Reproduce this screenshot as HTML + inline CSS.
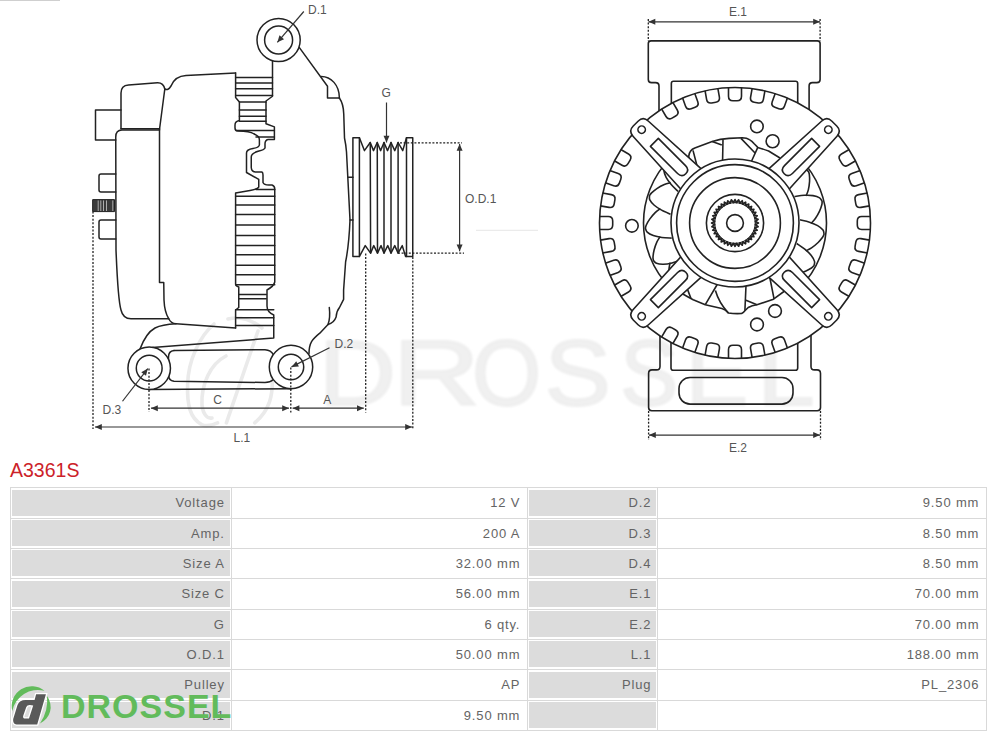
<!DOCTYPE html>
<html><head><meta charset="utf-8"><style>
html,body{margin:0;padding:0;background:#fff;}
body{width:1000px;height:737px;overflow:hidden;position:relative;font-family:"Liberation Sans",sans-serif;}
.g{position:absolute;background:#dcdcdc;}
.hl{position:absolute;left:10px;width:976.6px;height:1.2px;background:#d9d9d9;}
.vl{position:absolute;top:487.2px;height:243.6px;width:1.2px;background:#d9d9d9;}
.t{position:absolute;font-size:13px;line-height:16px;color:#646464;letter-spacing:0.85px;white-space:nowrap;}
.title{position:absolute;left:10px;top:459px;font-size:19.5px;line-height:22px;color:#cc2229;}
.logo{position:absolute;left:0;top:0;}
</style></head><body>
<div style="position:absolute;left:0;top:0;width:60px;height:1px;background:#cfcfcf"></div>
<svg width="1000" height="460" viewBox="0 0 1000 460" style="position:absolute;left:0;top:0"><defs><filter id="wmblur" x="-5%" y="-5%" width="110%" height="110%"><feGaussianBlur stdDeviation="1.2"/></filter></defs><g opacity="1"><g font-family="Liberation Sans, sans-serif" font-size="92" fill="#f0f0f0" stroke="#eeeeee" stroke-width="1.8" filter="url(#wmblur)"><text x="0" y="405" transform="translate(318.6,0) scale(1.17,1)">D</text><text x="0" y="405" transform="translate(392.4,0) scale(1.32,1)">R</text><text x="0" y="405" transform="translate(472.1,0) scale(0.968,1)">O</text><text x="0" y="405" transform="translate(544.7,0) scale(1.077,1)">S</text><text x="0" y="405" transform="translate(620.2,0) scale(0.942,1)">S</text><text x="0" y="405" transform="translate(685.8,0) scale(1.02,1)">E</text><text x="0" y="405" transform="translate(757,0) scale(1.128,1)">L</text></g><g fill="none" stroke="#eaeaea" stroke-width="3.6" stroke-linecap="round"><path d="M214,324 C200,336 188,360 187.6,385 C187,405 190,418 201.7,424.6 C207,427 213,425 217.6,422.9"/><path d="M226,356 C210,364 201,385 202,405 C203,414 207,419 212,418"/><path d="M258,331 L226.4,422.9"/><path d="M272.3,377 C273,395 270,410 254.7,422.9"/><path d="M228,319 C240,316 252,320 262,328"/></g></g><g fill="none" stroke="#222" stroke-width="1.5" stroke-linejoin="round" stroke-linecap="round"><path d="M121,110 H95.5 V140 H115.75" /><path d="M121,128.75 V93 Q121,85.5 128.5,85 L157.5,82.7 Q163.5,82.6 164.8,89 L159.5,129.5" /><path d="M121,128.75 H159.5" /><path d="M159.5,130 H122 Q115.75,130 115.75,137 L116,250 Q118,300 121,310 Q123,318.75 131,318.75 H168.75" /><path d="M115.75,174 H101 Q99,174 99,176 V190 Q99,192 101,192 H115.75" /><path d="M115.75,220 H101 Q99,220 99,222 V237 Q99,239 101,239 H115.75" /><path d="M164.8,89 Q168,91 171,86 Q175,76 186,75.5 L235.6,72.9" /><path d="M159.5,129.5 V282.5 H163.75 L164,300 Q164.5,312 168.75,318.75 Q171,323.5 176,323.8 L235.6,328" /><path d="M235.6,72.9 V97.5 L239.4,101.9 V120.6 Q235,121.5 235,125 V128 Q235,131 238,131 C245,131 250,131 253.75,133.75 C258,136 259.4,137 259.4,140 V145 Q259,147.5 253,148.5 Q246.5,149.5 246.5,153 V172.5 L258.75,179.4 V186.9 Q258,189 250,190.5 L235.6,193.1 V284 Q235.6,286 238.75,287 V307.5 L235.6,310 V328" /><path d="M272.5,60.6 V96.25 L266,101 V123.75 L274.4,126.9 V139.4 H268 Q265,140 265,143.75 V148 Q264,150 259,151 Q251.25,153 251.25,157 V167.5 Q251.5,172 256,172 H261.9 Q263,172.5 263,175 V182.5 Q264,185 268.75,185 H272 Q274.75,186 274.75,189 V282 Q274,286 267,290 V306 Q267,312 273.75,315 V338 L152.5,347.5" /><path d="M235.6,77.5 H272.5" /><path d="M235.6,82.9 H272.5" /><path d="M235.6,88.75 H272.5" /><path d="M235.6,95.6 H272.5" /><path d="M239.4,101.9 H266" /><path d="M239.4,110 H266" /><path d="M239.4,116.25 H266" /><path d="M239.4,121.25 H266" /><path d="M236,130.6 H274.4" /><path d="M256,136.9 H274.4" /><path d="M256,189.4 H274.75" /><path d="M235.6,196.25 H274.75" /><path d="M235.6,205 H274.75" /><path d="M235.6,214.4 H274.75" /><path d="M235.6,225 H274.75" /><path d="M235.6,235.6 H274.75" /><path d="M235.6,245.6 H274.75" /><path d="M235.6,254.75 H274.75" /><path d="M235.6,265.25 H274.75" /><path d="M235.6,274.75 H274.75" /><path d="M235.6,284.75 H274.75" /><path d="M238.75,294.4 H266.25" /><path d="M238.75,298.75 H266.25" /><path d="M235.6,309.75 H273.75" /><path d="M235.6,317.75 H273.75" /><path d="M235.6,325.6 H273.75" /><path d="M299.4,47.6 L327.5,86.25 V98 H339.4" /><path d="M321.3,76.5 C331,76.5 339.4,85 339.4,98" /><path d="M339.4,98 Q343.5,104 343.75,114 L344.5,138 Q346,145 346.5,152 L350,220 Q349,245 345.6,262 L343.6,290 V299.3 L339.5,307.5 Q336.5,311 336.1,317 Q334,323 328,324.4 L319.8,333.2 Q314,338 311.7,341.4 Q309,346 309,353.6" /><path d="M328,324.4 Q330.5,318 329.3,307.5" /><path d="M348.2,177.25 H353" /><path d="M350,220 H353" /><path d="M359.4,137.75 H352.9 V256.5 H359.4 V137.75" /><path d="M359.4,137.75 L364.4,150.6 L370.25,142.5 L373.5,150.6 L377.25,142.5 L380.6,150.6 L384,142.5 L387.5,150.6 L391,142.5 L394.75,150.6 L398.1,142.5 L402.75,150.6 L406.5,137.75 L412.75,137.75 L412.75,256.5 L405.6,256.5 L402.25,245.6 L398.1,253.1 L394.75,245.6 L391,253.1 L387.75,245.6 L384,253.1 L381,245.6 L377.5,253.1 L373.75,245.6 L370.6,253.1 L365.25,245.6 L359.4,256.5" /><path d="M370.25,142.5 L370.6,253.1" /><path d="M377.25,142.5 L377.5,253.1" /><path d="M384,142.5 L384,253.1" /><path d="M391,142.5 L391,253.1" /><path d="M398.1,142.5 L398.1,253.1" /><path d="M406.5,137.75 V256.5" /><path d="M140,349 Q146,333 155,328 Q162,324.5 176,323.8" /><path d="M174,350.5 L265,349.75 Q271,350 273.5,355" /><path d="M273.5,379.5 Q270,382.5 265,382.5 L174,381.3 Q168.5,380.5 168.5,375 V357 Q168.5,351 174,350.5" /><path d="M149,389.4 L291,388.7" /><circle cx="278.6" cy="40" r="21.6" fill="#fff"/><circle cx="278.6" cy="40" r="14.0"/><circle cx="291" cy="367" r="21.7" fill="#fff"/><circle cx="291" cy="367" r="12.7"/><circle cx="149.2" cy="368.2" r="21.25" fill="#fff"/><circle cx="149.2" cy="368.2" r="12.9"/><rect x="93" y="199.6" width="21.5" height="12" fill="#3a3a3a" stroke="#222" stroke-width="1"/><line x1="98.2" y1="200.8" x2="98.2" y2="210.6" stroke="#e0e0e0" stroke-width="0.7"/><line x1="100.8" y1="200.8" x2="100.8" y2="210.6" stroke="#e0e0e0" stroke-width="0.7"/><line x1="103.5" y1="200.8" x2="103.5" y2="210.6" stroke="#e0e0e0" stroke-width="0.7"/><line x1="106.5" y1="200.8" x2="106.5" y2="210.6" stroke="#e0e0e0" stroke-width="0.7"/><line x1="112.8" y1="200.8" x2="112.8" y2="210.6" stroke="#e0e0e0" stroke-width="0.7"/></g><g fill="none" stroke="#222" stroke-width="1.6" stroke-linejoin="round"><path d="M659,120 V86 Q659,82.6 655.5,82.6 H651.5 Q648.3,82.6 648.3,79.5 V43.5 Q648.3,40.9 651,40.9 H817.3 Q820.1,40.9 820.1,43.5 V79.5 Q820.1,82.6 816.8,82.6 H812.5 Q809.1,82.6 809.1,86 V120"/><path d="M671.35,120 V83.5 Q671.35,81.3 673.5,81.3 H795.5 Q797.7,81.3 797.7,83.5 V120"/><path d="M660,330 V366.5 Q660,369.9 656.5,369.9 H652 Q648.6,369.9 648.6,373.5 V407.5 Q648.6,410.75 651.8,410.75 H817.3 Q820.5,410.75 820.5,407.5 V373.5 Q820.5,369.9 817,369.9 H814.5 Q811,369.9 811,366.5 V330"/><path d="M671,330 V368 Q671,370.3 673.3,370.3 H795.4 Q797.7,370.3 797.7,368 V330"/><rect x="679" y="377.5" width="114" height="26.6" rx="11" ry="11"/><circle cx="735.0" cy="223.0" r="135.5" fill="#fff"/><path d="M728.5,87.35599385270142 V96.3 Q728.5,100.7 732.9,100.7 H737.1 Q741.5,100.7 741.5,96.3 V87.35599385270142" transform="rotate(330 735.0 223.0)"/><path d="M728.5,87.35599385270142 V96.3 Q728.5,100.7 732.9,100.7 H737.1 Q741.5,100.7 741.5,96.3 V87.35599385270142" transform="rotate(340 735.0 223.0)"/><path d="M728.5,87.35599385270142 V96.3 Q728.5,100.7 732.9,100.7 H737.1 Q741.5,100.7 741.5,96.3 V87.35599385270142" transform="rotate(350 735.0 223.0)"/><path d="M728.5,87.35599385270142 V96.3 Q728.5,100.7 732.9,100.7 H737.1 Q741.5,100.7 741.5,96.3 V87.35599385270142" transform="rotate(0 735.0 223.0)"/><path d="M728.5,87.35599385270142 V96.3 Q728.5,100.7 732.9,100.7 H737.1 Q741.5,100.7 741.5,96.3 V87.35599385270142" transform="rotate(10 735.0 223.0)"/><path d="M728.5,87.35599385270142 V96.3 Q728.5,100.7 732.9,100.7 H737.1 Q741.5,100.7 741.5,96.3 V87.35599385270142" transform="rotate(20 735.0 223.0)"/><path d="M728.5,87.35599385270142 V96.3 Q728.5,100.7 732.9,100.7 H737.1 Q741.5,100.7 741.5,96.3 V87.35599385270142" transform="rotate(60 735.0 223.0)"/><path d="M728.5,87.35599385270142 V96.3 Q728.5,100.7 732.9,100.7 H737.1 Q741.5,100.7 741.5,96.3 V87.35599385270142" transform="rotate(70 735.0 223.0)"/><path d="M728.5,87.35599385270142 V96.3 Q728.5,100.7 732.9,100.7 H737.1 Q741.5,100.7 741.5,96.3 V87.35599385270142" transform="rotate(80 735.0 223.0)"/><path d="M728.5,87.35599385270142 V96.3 Q728.5,100.7 732.9,100.7 H737.1 Q741.5,100.7 741.5,96.3 V87.35599385270142" transform="rotate(90 735.0 223.0)"/><path d="M728.5,87.35599385270142 V96.3 Q728.5,100.7 732.9,100.7 H737.1 Q741.5,100.7 741.5,96.3 V87.35599385270142" transform="rotate(100 735.0 223.0)"/><path d="M728.5,87.35599385270142 V96.3 Q728.5,100.7 732.9,100.7 H737.1 Q741.5,100.7 741.5,96.3 V87.35599385270142" transform="rotate(110 735.0 223.0)"/><path d="M728.5,87.35599385270142 V96.3 Q728.5,100.7 732.9,100.7 H737.1 Q741.5,100.7 741.5,96.3 V87.35599385270142" transform="rotate(120 735.0 223.0)"/><path d="M728.5,87.35599385270142 V96.3 Q728.5,100.7 732.9,100.7 H737.1 Q741.5,100.7 741.5,96.3 V87.35599385270142" transform="rotate(160 735.0 223.0)"/><path d="M728.5,87.35599385270142 V96.3 Q728.5,100.7 732.9,100.7 H737.1 Q741.5,100.7 741.5,96.3 V87.35599385270142" transform="rotate(170 735.0 223.0)"/><path d="M728.5,87.35599385270142 V96.3 Q728.5,100.7 732.9,100.7 H737.1 Q741.5,100.7 741.5,96.3 V87.35599385270142" transform="rotate(180 735.0 223.0)"/><path d="M728.5,87.35599385270142 V96.3 Q728.5,100.7 732.9,100.7 H737.1 Q741.5,100.7 741.5,96.3 V87.35599385270142" transform="rotate(190 735.0 223.0)"/><path d="M728.5,87.35599385270142 V96.3 Q728.5,100.7 732.9,100.7 H737.1 Q741.5,100.7 741.5,96.3 V87.35599385270142" transform="rotate(200 735.0 223.0)"/><path d="M728.5,87.35599385270142 V96.3 Q728.5,100.7 732.9,100.7 H737.1 Q741.5,100.7 741.5,96.3 V87.35599385270142" transform="rotate(210 735.0 223.0)"/><path d="M728.5,87.35599385270142 V96.3 Q728.5,100.7 732.9,100.7 H737.1 Q741.5,100.7 741.5,96.3 V87.35599385270142" transform="rotate(240 735.0 223.0)"/><path d="M728.5,87.35599385270142 V96.3 Q728.5,100.7 732.9,100.7 H737.1 Q741.5,100.7 741.5,96.3 V87.35599385270142" transform="rotate(250 735.0 223.0)"/><path d="M728.5,87.35599385270142 V96.3 Q728.5,100.7 732.9,100.7 H737.1 Q741.5,100.7 741.5,96.3 V87.35599385270142" transform="rotate(260 735.0 223.0)"/><path d="M728.5,87.35599385270142 V96.3 Q728.5,100.7 732.9,100.7 H737.1 Q741.5,100.7 741.5,96.3 V87.35599385270142" transform="rotate(270 735.0 223.0)"/><path d="M728.5,87.35599385270142 V96.3 Q728.5,100.7 732.9,100.7 H737.1 Q741.5,100.7 741.5,96.3 V87.35599385270142" transform="rotate(280 735.0 223.0)"/><path d="M728.5,87.35599385270142 V96.3 Q728.5,100.7 732.9,100.7 H737.1 Q741.5,100.7 741.5,96.3 V87.35599385270142" transform="rotate(290 735.0 223.0)"/><path d="M728.5,87.35599385270142 V96.3 Q728.5,100.7 732.9,100.7 H737.1 Q741.5,100.7 741.5,96.3 V87.35599385270142" transform="rotate(300 735.0 223.0)"/><circle cx="735.0" cy="223.0" r="91.5"/><path d="M660.30,208.60 C659.45,209.27 656.97,210.85 655.20,212.60 C653.43,214.35 651.18,217.03 649.70,219.10 C648.22,221.17 647.02,223.47 646.30,225.00 C645.58,226.53 645.55,227.75 645.40,228.30 L645.40,228.30 C645.70,228.95 645.88,230.98 647.20,232.20 C648.52,233.42 650.85,234.72 653.30,235.60 C655.75,236.48 658.83,237.08 661.90,237.50 C664.97,237.92 670.07,238.00 671.70,238.10" transform="rotate(0.000 735.0 223.0)"/><path d="M660.30,208.60 C659.45,209.27 656.97,210.85 655.20,212.60 C653.43,214.35 651.18,217.03 649.70,219.10 C648.22,221.17 647.02,223.47 646.30,225.00 C645.58,226.53 645.55,227.75 645.40,228.30 L645.40,228.30 C645.70,228.95 645.88,230.98 647.20,232.20 C648.52,233.42 650.85,234.72 653.30,235.60 C655.75,236.48 658.83,237.08 661.90,237.50 C664.97,237.92 670.07,238.00 671.70,238.10" transform="rotate(21.176 735.0 223.0)"/><path d="M660.30,208.60 C659.45,209.27 656.97,210.85 655.20,212.60 C653.43,214.35 651.18,217.03 649.70,219.10 C648.22,221.17 647.02,223.47 646.30,225.00 C645.58,226.53 645.55,227.75 645.40,228.30 L645.40,228.30 C645.70,228.95 645.88,230.98 647.20,232.20 C648.52,233.42 650.85,234.72 653.30,235.60 C655.75,236.48 658.83,237.08 661.90,237.50 C664.97,237.92 670.07,238.00 671.70,238.10" transform="rotate(42.353 735.0 223.0)"/><path d="M660.30,208.60 C659.45,209.27 656.97,210.85 655.20,212.60 C653.43,214.35 651.18,217.03 649.70,219.10 C648.22,221.17 647.02,223.47 646.30,225.00 C645.58,226.53 645.55,227.75 645.40,228.30 L645.40,228.30 C645.70,228.95 645.88,230.98 647.20,232.20 C648.52,233.42 650.85,234.72 653.30,235.60 C655.75,236.48 658.83,237.08 661.90,237.50 C664.97,237.92 670.07,238.00 671.70,238.10" transform="rotate(63.529 735.0 223.0)"/><path d="M660.30,208.60 C659.45,209.27 656.97,210.85 655.20,212.60 C653.43,214.35 651.18,217.03 649.70,219.10 C648.22,221.17 647.02,223.47 646.30,225.00 C645.58,226.53 645.55,227.75 645.40,228.30 L645.40,228.30 C645.70,228.95 645.88,230.98 647.20,232.20 C648.52,233.42 650.85,234.72 653.30,235.60 C655.75,236.48 658.83,237.08 661.90,237.50 C664.97,237.92 670.07,238.00 671.70,238.10" transform="rotate(84.706 735.0 223.0)"/><path d="M660.30,208.60 C659.45,209.27 656.97,210.85 655.20,212.60 C653.43,214.35 651.18,217.03 649.70,219.10 C648.22,221.17 647.02,223.47 646.30,225.00 C645.58,226.53 645.55,227.75 645.40,228.30 L645.40,228.30 C645.70,228.95 645.88,230.98 647.20,232.20 C648.52,233.42 650.85,234.72 653.30,235.60 C655.75,236.48 658.83,237.08 661.90,237.50 C664.97,237.92 670.07,238.00 671.70,238.10" transform="rotate(105.882 735.0 223.0)"/><path d="M660.30,208.60 C659.45,209.27 656.97,210.85 655.20,212.60 C653.43,214.35 651.18,217.03 649.70,219.10 C648.22,221.17 647.02,223.47 646.30,225.00 C645.58,226.53 645.55,227.75 645.40,228.30 L645.40,228.30 C645.70,228.95 645.88,230.98 647.20,232.20 C648.52,233.42 650.85,234.72 653.30,235.60 C655.75,236.48 658.83,237.08 661.90,237.50 C664.97,237.92 670.07,238.00 671.70,238.10" transform="rotate(127.059 735.0 223.0)"/><path d="M660.30,208.60 C659.45,209.27 656.97,210.85 655.20,212.60 C653.43,214.35 651.18,217.03 649.70,219.10 C648.22,221.17 647.02,223.47 646.30,225.00 C645.58,226.53 645.55,227.75 645.40,228.30 L645.40,228.30 C645.70,228.95 645.88,230.98 647.20,232.20 C648.52,233.42 650.85,234.72 653.30,235.60 C655.75,236.48 658.83,237.08 661.90,237.50 C664.97,237.92 670.07,238.00 671.70,238.10" transform="rotate(148.235 735.0 223.0)"/><path d="M660.30,208.60 C659.45,209.27 656.97,210.85 655.20,212.60 C653.43,214.35 651.18,217.03 649.70,219.10 C648.22,221.17 647.02,223.47 646.30,225.00 C645.58,226.53 645.55,227.75 645.40,228.30 L645.40,228.30 C645.70,228.95 645.88,230.98 647.20,232.20 C648.52,233.42 650.85,234.72 653.30,235.60 C655.75,236.48 658.83,237.08 661.90,237.50 C664.97,237.92 670.07,238.00 671.70,238.10" transform="rotate(169.412 735.0 223.0)"/><path d="M660.30,208.60 C659.45,209.27 656.97,210.85 655.20,212.60 C653.43,214.35 651.18,217.03 649.70,219.10 C648.22,221.17 647.02,223.47 646.30,225.00 C645.58,226.53 645.55,227.75 645.40,228.30 L645.40,228.30 C645.70,228.95 645.88,230.98 647.20,232.20 C648.52,233.42 650.85,234.72 653.30,235.60 C655.75,236.48 658.83,237.08 661.90,237.50 C664.97,237.92 670.07,238.00 671.70,238.10" transform="rotate(190.588 735.0 223.0)"/><path d="M660.30,208.60 C659.45,209.27 656.97,210.85 655.20,212.60 C653.43,214.35 651.18,217.03 649.70,219.10 C648.22,221.17 647.02,223.47 646.30,225.00 C645.58,226.53 645.55,227.75 645.40,228.30 L645.40,228.30 C645.70,228.95 645.88,230.98 647.20,232.20 C648.52,233.42 650.85,234.72 653.30,235.60 C655.75,236.48 658.83,237.08 661.90,237.50 C664.97,237.92 670.07,238.00 671.70,238.10" transform="rotate(211.765 735.0 223.0)"/><path d="M660.30,208.60 C659.45,209.27 656.97,210.85 655.20,212.60 C653.43,214.35 651.18,217.03 649.70,219.10 C648.22,221.17 647.02,223.47 646.30,225.00 C645.58,226.53 645.55,227.75 645.40,228.30 L645.40,228.30 C645.70,228.95 645.88,230.98 647.20,232.20 C648.52,233.42 650.85,234.72 653.30,235.60 C655.75,236.48 658.83,237.08 661.90,237.50 C664.97,237.92 670.07,238.00 671.70,238.10" transform="rotate(232.941 735.0 223.0)"/><path d="M660.30,208.60 C659.45,209.27 656.97,210.85 655.20,212.60 C653.43,214.35 651.18,217.03 649.70,219.10 C648.22,221.17 647.02,223.47 646.30,225.00 C645.58,226.53 645.55,227.75 645.40,228.30 L645.40,228.30 C645.70,228.95 645.88,230.98 647.20,232.20 C648.52,233.42 650.85,234.72 653.30,235.60 C655.75,236.48 658.83,237.08 661.90,237.50 C664.97,237.92 670.07,238.00 671.70,238.10" transform="rotate(254.118 735.0 223.0)"/><path d="M660.30,208.60 C659.45,209.27 656.97,210.85 655.20,212.60 C653.43,214.35 651.18,217.03 649.70,219.10 C648.22,221.17 647.02,223.47 646.30,225.00 C645.58,226.53 645.55,227.75 645.40,228.30 L645.40,228.30 C645.70,228.95 645.88,230.98 647.20,232.20 C648.52,233.42 650.85,234.72 653.30,235.60 C655.75,236.48 658.83,237.08 661.90,237.50 C664.97,237.92 670.07,238.00 671.70,238.10" transform="rotate(275.294 735.0 223.0)"/><path d="M660.30,208.60 C659.45,209.27 656.97,210.85 655.20,212.60 C653.43,214.35 651.18,217.03 649.70,219.10 C648.22,221.17 647.02,223.47 646.30,225.00 C645.58,226.53 645.55,227.75 645.40,228.30 L645.40,228.30 C645.70,228.95 645.88,230.98 647.20,232.20 C648.52,233.42 650.85,234.72 653.30,235.60 C655.75,236.48 658.83,237.08 661.90,237.50 C664.97,237.92 670.07,238.00 671.70,238.10" transform="rotate(296.471 735.0 223.0)"/><path d="M660.30,208.60 C659.45,209.27 656.97,210.85 655.20,212.60 C653.43,214.35 651.18,217.03 649.70,219.10 C648.22,221.17 647.02,223.47 646.30,225.00 C645.58,226.53 645.55,227.75 645.40,228.30 L645.40,228.30 C645.70,228.95 645.88,230.98 647.20,232.20 C648.52,233.42 650.85,234.72 653.30,235.60 C655.75,236.48 658.83,237.08 661.90,237.50 C664.97,237.92 670.07,238.00 671.70,238.10" transform="rotate(317.647 735.0 223.0)"/><path d="M660.30,208.60 C659.45,209.27 656.97,210.85 655.20,212.60 C653.43,214.35 651.18,217.03 649.70,219.10 C648.22,221.17 647.02,223.47 646.30,225.00 C645.58,226.53 645.55,227.75 645.40,228.30 L645.40,228.30 C645.70,228.95 645.88,230.98 647.20,232.20 C648.52,233.42 650.85,234.72 653.30,235.60 C655.75,236.48 658.83,237.08 661.90,237.50 C664.97,237.92 670.07,238.00 671.70,238.10" transform="rotate(338.824 735.0 223.0)"/><path d="M696.21,173.36 L675.90,147.35 A96,96 0 0 1 794.10,147.35 L773.79,173.36 Z" fill="#fff" stroke="none"/><path d="M688.8,158 L688.8,155.8 Q689.5,150 694.8,148 L712.2,141.4 Q720,139 729,138.4 L742.2,137.8 Q747,138 749.4,139.6 Q752,141 754.2,143.8 L757.8,147.4 Q763,149 768.6,151 L780,158"/><path d="M693,150.4 L696.8,165 M712.2,141.4 L721.8,145 M723,139.6 L722.6,160 M741,138.4 L754.8,152.8 M757.8,147.4 L751.6,161"/><path d="M773.79,272.64 L794.10,298.65 A96,96 0 0 1 675.90,298.65 L696.21,272.64 Z" fill="#fff" stroke="none"/><path d="M680,291 L683.3,294.25 Q688,297 693.2,299.75 L705.3,304.7 L721.8,308.55 Q725.5,309.5 728.4,312.95 Q735,314 741.6,313.5 Q743.5,312.5 744.9,310.75 L748.2,307.45 Q752,305.5 757,304.7 L773.5,299.2 L786,290"/><path d="M687.7,289.85 L691,298.65 M717.2,284.5 L705.3,304.7 M715.4,290.5 Q719,303 728.4,312.95 M746,285.5 L744.9,310.75 M746,300.3 L757,304.7 M769.8,277.5 L774.1,299.2"/><circle cx="756.9" cy="126.4" r="6.3"/><circle cx="772.6" cy="141.25" r="6.5"/><circle cx="775" cy="311" r="6.4"/><circle cx="757" cy="324.5" r="6.4"/><circle cx="631.9" cy="225.8" r="6.3"/><g transform="rotate(45 735.0 223.0)"><path d="M720.4,165.0 L724.2436363636364,89.5 Q724.6,82.5 731.6,82.5 H738.4 Q745.4,82.5 745.7563636363636,89.5 L749.6,165.0 Z" fill="#fff"/><circle cx="735.0" cy="91.0" r="3.7"/><path d="M729.4,109.0 H740.6 V147.4 Q740.6,153.4 735.0,153.4 Q729.4,153.4 729.4,147.4 Z"/></g><g transform="rotate(135 735.0 223.0)"><path d="M720.4,165.0 L724.2436363636364,89.5 Q724.6,82.5 731.6,82.5 H738.4 Q745.4,82.5 745.7563636363636,89.5 L749.6,165.0 Z" fill="#fff"/><circle cx="735.0" cy="91.0" r="3.7"/><path d="M729.4,109.0 H740.6 V147.4 Q740.6,153.4 735.0,153.4 Q729.4,153.4 729.4,147.4 Z"/></g><g transform="rotate(225 735.0 223.0)"><path d="M720.4,165.0 L724.2436363636364,89.5 Q724.6,82.5 731.6,82.5 H738.4 Q745.4,82.5 745.7563636363636,89.5 L749.6,165.0 Z" fill="#fff"/><circle cx="735.0" cy="91.0" r="3.7"/><path d="M729.4,109.0 H740.6 V147.4 Q740.6,153.4 735.0,153.4 Q729.4,153.4 729.4,147.4 Z"/></g><g transform="rotate(315 735.0 223.0)"><path d="M720.4,165.0 L724.2436363636364,89.5 Q724.6,82.5 731.6,82.5 H738.4 Q745.4,82.5 745.7563636363636,89.5 L749.6,165.0 Z" fill="#fff"/><circle cx="735.0" cy="91.0" r="3.7"/><path d="M729.4,109.0 H740.6 V147.4 Q740.6,153.4 735.0,153.4 Q729.4,153.4 729.4,147.4 Z"/></g><circle cx="735.0" cy="223.0" r="64" fill="#fff"/><circle cx="735.0" cy="223.0" r="58.4"/><circle cx="735.0" cy="223.0" r="45.4"/><circle cx="735.0" cy="223.0" r="28.6"/><circle cx="735.0" cy="223.0" r="8.4"/><path d="M735.00,199.60 L736.61,202.56 L738.66,199.89 L739.79,203.07 L742.23,200.75 L742.85,204.06 L745.62,202.15 L745.71,205.52 L748.75,204.07 L748.31,207.41 L751.55,206.45 L750.59,209.69 L753.93,209.25 L752.48,212.29 L755.85,212.38 L753.94,215.15 L757.25,215.77 L754.93,218.21 L758.11,219.34 L755.44,221.39 L758.40,223.00 L755.44,224.61 L758.11,226.66 L754.93,227.79 L757.25,230.23 L753.94,230.85 L755.85,233.62 L752.48,233.71 L753.93,236.75 L750.59,236.31 L751.55,239.55 L748.31,238.59 L748.75,241.93 L745.71,240.48 L745.62,243.85 L742.85,241.94 L742.23,245.25 L739.79,242.93 L738.66,246.11 L736.61,243.44 L735.00,246.40 L733.39,243.44 L731.34,246.11 L730.21,242.93 L727.77,245.25 L727.15,241.94 L724.38,243.85 L724.29,240.48 L721.25,241.93 L721.69,238.59 L718.45,239.55 L719.41,236.31 L716.07,236.75 L717.52,233.71 L714.15,233.62 L716.06,230.85 L712.75,230.23 L715.07,227.79 L711.89,226.66 L714.56,224.61 L711.60,223.00 L714.56,221.39 L711.89,219.34 L715.07,218.21 L712.75,215.77 L716.06,215.15 L714.15,212.38 L717.52,212.29 L716.07,209.25 L719.41,209.69 L718.45,206.45 L721.69,207.41 L721.25,204.07 L724.29,205.52 L724.38,202.15 L727.15,204.06 L727.77,200.75 L730.21,203.07 L731.34,199.89 L733.39,202.56 Z" stroke-width="1.7"/><circle cx="735.0" cy="223.0" r="20.3" stroke-width="1.2"/></g><g stroke="#333" stroke-width="1.2" fill="none"><line x1="303.8" y1="11.5" x2="277.35" y2="42.35"/><path d="M277.35,42.35 L279.50,35.23 L284.05,39.14 Z" fill="#333" stroke="none"/><line x1="329.5" y1="347.75" x2="291.5" y2="366.9"/><path d="M291.50,366.90 L296.22,361.16 L298.92,366.52 Z" fill="#333" stroke="none"/><line x1="122.5" y1="401.25" x2="147.8" y2="368.6"/><path d="M147.80,368.60 L146.01,375.81 L141.26,372.14 Z" fill="#333" stroke="none"/><line x1="386.5" y1="102.5" x2="386.5" y2="142.5"/><path d="M386.50,142.50 L383.50,135.70 L389.50,135.70 Z" fill="#333" stroke="none"/><line x1="459.6" y1="144" x2="459.6" y2="251.3"/><path d="M459.60,144.00 L462.60,150.80 L456.60,150.80 Z" fill="#333" stroke="none"/><path d="M459.60,251.30 L456.60,244.50 L462.60,244.50 Z" fill="#333" stroke="none"/><line x1="151" y1="408.2" x2="289" y2="408.2"/><path d="M151.00,408.20 L157.80,405.20 L157.80,411.20 Z" fill="#333" stroke="none"/><path d="M289.00,408.20 L282.20,411.20 L282.20,405.20 Z" fill="#333" stroke="none"/><line x1="292.6" y1="408.2" x2="363.8" y2="408.2"/><path d="M292.60,408.20 L299.40,405.20 L299.40,411.20 Z" fill="#333" stroke="none"/><path d="M363.80,408.20 L357.00,411.20 L357.00,405.20 Z" fill="#333" stroke="none"/><line x1="95" y1="427" x2="412" y2="427"/><path d="M95.00,427.00 L101.80,424.00 L101.80,430.00 Z" fill="#333" stroke="none"/><path d="M412.00,427.00 L405.20,430.00 L405.20,424.00 Z" fill="#333" stroke="none"/><line x1="648.5" y1="21.85" x2="820" y2="21.85"/><path d="M648.50,21.85 L655.30,18.85 L655.30,24.85 Z" fill="#333" stroke="none"/><path d="M820.00,21.85 L813.20,24.85 L813.20,18.85 Z" fill="#333" stroke="none"/><line x1="649" y1="435.1" x2="820" y2="435.1"/><path d="M649.00,435.10 L655.80,432.10 L655.80,438.10 Z" fill="#333" stroke="none"/><path d="M820.00,435.10 L813.20,438.10 L813.20,432.10 Z" fill="#333" stroke="none"/><line x1="93" y1="211.5" x2="93" y2="429" stroke-dasharray="2 1.6" stroke="#222" stroke-width="1.3"/><line x1="149" y1="368.5" x2="149" y2="412" stroke-dasharray="2 1.6" stroke="#222" stroke-width="1.3"/><line x1="290.8" y1="367.5" x2="290.8" y2="412.5" stroke-dasharray="2 1.6" stroke="#222" stroke-width="1.3"/><line x1="365.7" y1="253.5" x2="365.7" y2="412.5" stroke-dasharray="2 1.6" stroke="#222" stroke-width="1.3"/><line x1="412.8" y1="257" x2="412.8" y2="429" stroke-dasharray="2 1.6" stroke="#222" stroke-width="1.3"/><line x1="400" y1="142.8" x2="462" y2="142.8" stroke-dasharray="2 1.6" stroke="#222" stroke-width="1.3"/><line x1="398" y1="253.2" x2="464" y2="253.2" stroke-dasharray="2 1.6" stroke="#222" stroke-width="1.3"/><line x1="648.3" y1="19" x2="648.3" y2="41" stroke-dasharray="2 1.6" stroke="#222" stroke-width="1.3"/><line x1="820.1" y1="19" x2="820.1" y2="41" stroke-dasharray="2 1.6" stroke="#222" stroke-width="1.3"/><line x1="648.6" y1="411" x2="648.6" y2="440" stroke-dasharray="2 1.6" stroke="#222" stroke-width="1.3"/><line x1="820.5" y1="411" x2="820.5" y2="440" stroke-dasharray="2 1.6" stroke="#222" stroke-width="1.3"/><line x1="476" y1="230.3" x2="538" y2="230.3" stroke="#e6e6e6" stroke-width="1"/></g><g fill="#555" font-family="Liberation Sans, sans-serif"><text x="308" y="14.2" font-size="12">D.1</text><text x="381.5" y="97" font-size="12">G</text><text x="465" y="203" font-size="12">O.D.1</text><text x="334.5" y="347.6" font-size="12">D.2</text><text x="102.5" y="413.7" font-size="12">D.3</text><text x="213.3" y="403.6" font-size="12">C</text><text x="323.3" y="403.9" font-size="12">A</text><text x="233.5" y="442" font-size="12">L.1</text><text x="729" y="16.2" font-size="12">E.1</text><text x="729" y="451.7" font-size="12">E.2</text></g></svg>
<div class="title">A3361S</div>
<div class="g" style="left:12px;top:489.70px;width:218px;height:26.03px"></div><div class="g" style="left:529px;top:489.70px;width:127px;height:26.03px"></div><div class="g" style="left:12px;top:520.03px;width:218px;height:26.03px"></div><div class="g" style="left:529px;top:520.03px;width:127px;height:26.03px"></div><div class="g" style="left:12px;top:550.36px;width:218px;height:26.03px"></div><div class="g" style="left:529px;top:550.36px;width:127px;height:26.03px"></div><div class="g" style="left:12px;top:580.69px;width:218px;height:26.03px"></div><div class="g" style="left:529px;top:580.69px;width:127px;height:26.03px"></div><div class="g" style="left:12px;top:611.02px;width:218px;height:26.03px"></div><div class="g" style="left:529px;top:611.02px;width:127px;height:26.03px"></div><div class="g" style="left:12px;top:641.35px;width:218px;height:26.03px"></div><div class="g" style="left:529px;top:641.35px;width:127px;height:26.03px"></div><div class="g" style="left:12px;top:671.68px;width:218px;height:26.03px"></div><div class="g" style="left:529px;top:671.68px;width:127px;height:26.03px"></div><div class="g" style="left:12px;top:702.01px;width:218px;height:26.03px"></div><div class="g" style="left:529px;top:702.01px;width:127px;height:26.03px"></div><div class="hl" style="top:487.20px"></div><div class="hl" style="top:517.53px"></div><div class="hl" style="top:547.86px"></div><div class="hl" style="top:578.19px"></div><div class="hl" style="top:608.52px"></div><div class="hl" style="top:638.85px"></div><div class="hl" style="top:669.18px"></div><div class="hl" style="top:699.51px"></div><div class="hl" style="top:729.84px"></div><div class="vl" style="left:10.00px"></div><div class="vl" style="left:231.00px"></div><div class="vl" style="left:527.10px"></div><div class="vl" style="left:656.50px"></div><div class="vl" style="left:985.60px"></div><div class="t" style="right:775.2px;top:495.40px">Voltage</div><div class="t" style="right:479.70000000000005px;top:495.40px">12 V</div><div class="t" style="right:348.70000000000005px;top:495.40px">D.2</div><div class="t" style="right:20.700000000000045px;top:495.40px">9.50 mm</div><div class="t" style="right:775.2px;top:525.73px">Amp.</div><div class="t" style="right:479.70000000000005px;top:525.73px">200 A</div><div class="t" style="right:348.70000000000005px;top:525.73px">D.3</div><div class="t" style="right:20.700000000000045px;top:525.73px">8.50 mm</div><div class="t" style="right:775.2px;top:556.06px">Size A</div><div class="t" style="right:479.70000000000005px;top:556.06px">32.00 mm</div><div class="t" style="right:348.70000000000005px;top:556.06px">D.4</div><div class="t" style="right:20.700000000000045px;top:556.06px">8.50 mm</div><div class="t" style="right:775.2px;top:586.39px">Size C</div><div class="t" style="right:479.70000000000005px;top:586.39px">56.00 mm</div><div class="t" style="right:348.70000000000005px;top:586.39px">E.1</div><div class="t" style="right:20.700000000000045px;top:586.39px">70.00 mm</div><div class="t" style="right:775.2px;top:616.72px">G</div><div class="t" style="right:479.70000000000005px;top:616.72px">6 qty.</div><div class="t" style="right:348.70000000000005px;top:616.72px">E.2</div><div class="t" style="right:20.700000000000045px;top:616.72px">70.00 mm</div><div class="t" style="right:775.2px;top:647.05px">O.D.1</div><div class="t" style="right:479.70000000000005px;top:647.05px">50.00 mm</div><div class="t" style="right:348.70000000000005px;top:647.05px">L.1</div><div class="t" style="right:20.700000000000045px;top:647.05px">188.00 mm</div><div class="t" style="right:775.2px;top:677.38px">Pulley</div><div class="t" style="right:479.70000000000005px;top:677.38px">AP</div><div class="t" style="right:348.70000000000005px;top:677.38px">Plug</div><div class="t" style="right:20.700000000000045px;top:677.38px">PL_2306</div><div class="t" style="right:775.2px;top:707.71px">D.1</div><div class="t" style="right:479.70000000000005px;top:707.71px">9.50 mm</div>
<svg class="logo" width="1000" height="737" viewBox="0 0 1000 737" style="position:absolute;left:0;top:0">
<path d="M12.3,711 A20,20 0 0 1 44.5,690.8 A26,26 0 0 0 12.3,711 Z" fill="#62bb5b"/>
<path d="M47,696.1 A18,18 0 0 1 40,723.4 A40,40 0 0 0 47,696.1 Z" fill="#62bb5b"/>
<path fill-rule="evenodd" d="M36.1,694.3 L45.9,694.3 L37.2,724.4 L16.5,724.4 Q12.5,724 13.2,719 L17.5,705 Q19.5,700 25.5,700 L34.6,700 Z M29.8,705 L33.2,705.5 L29,718.5 L24.5,718.5 Q22.5,718 23.3,715.5 L26.3,707 Q27,705 29.8,705 Z" fill="#595959" stroke="#fff" stroke-width="2.6" paint-order="stroke"/>
<text x="61" y="718.3" font-family="Liberation Sans, sans-serif" font-weight="bold" font-size="34" fill="#62bb5b" letter-spacing="1">DROSSEL</text>
</svg>
</body></html>
